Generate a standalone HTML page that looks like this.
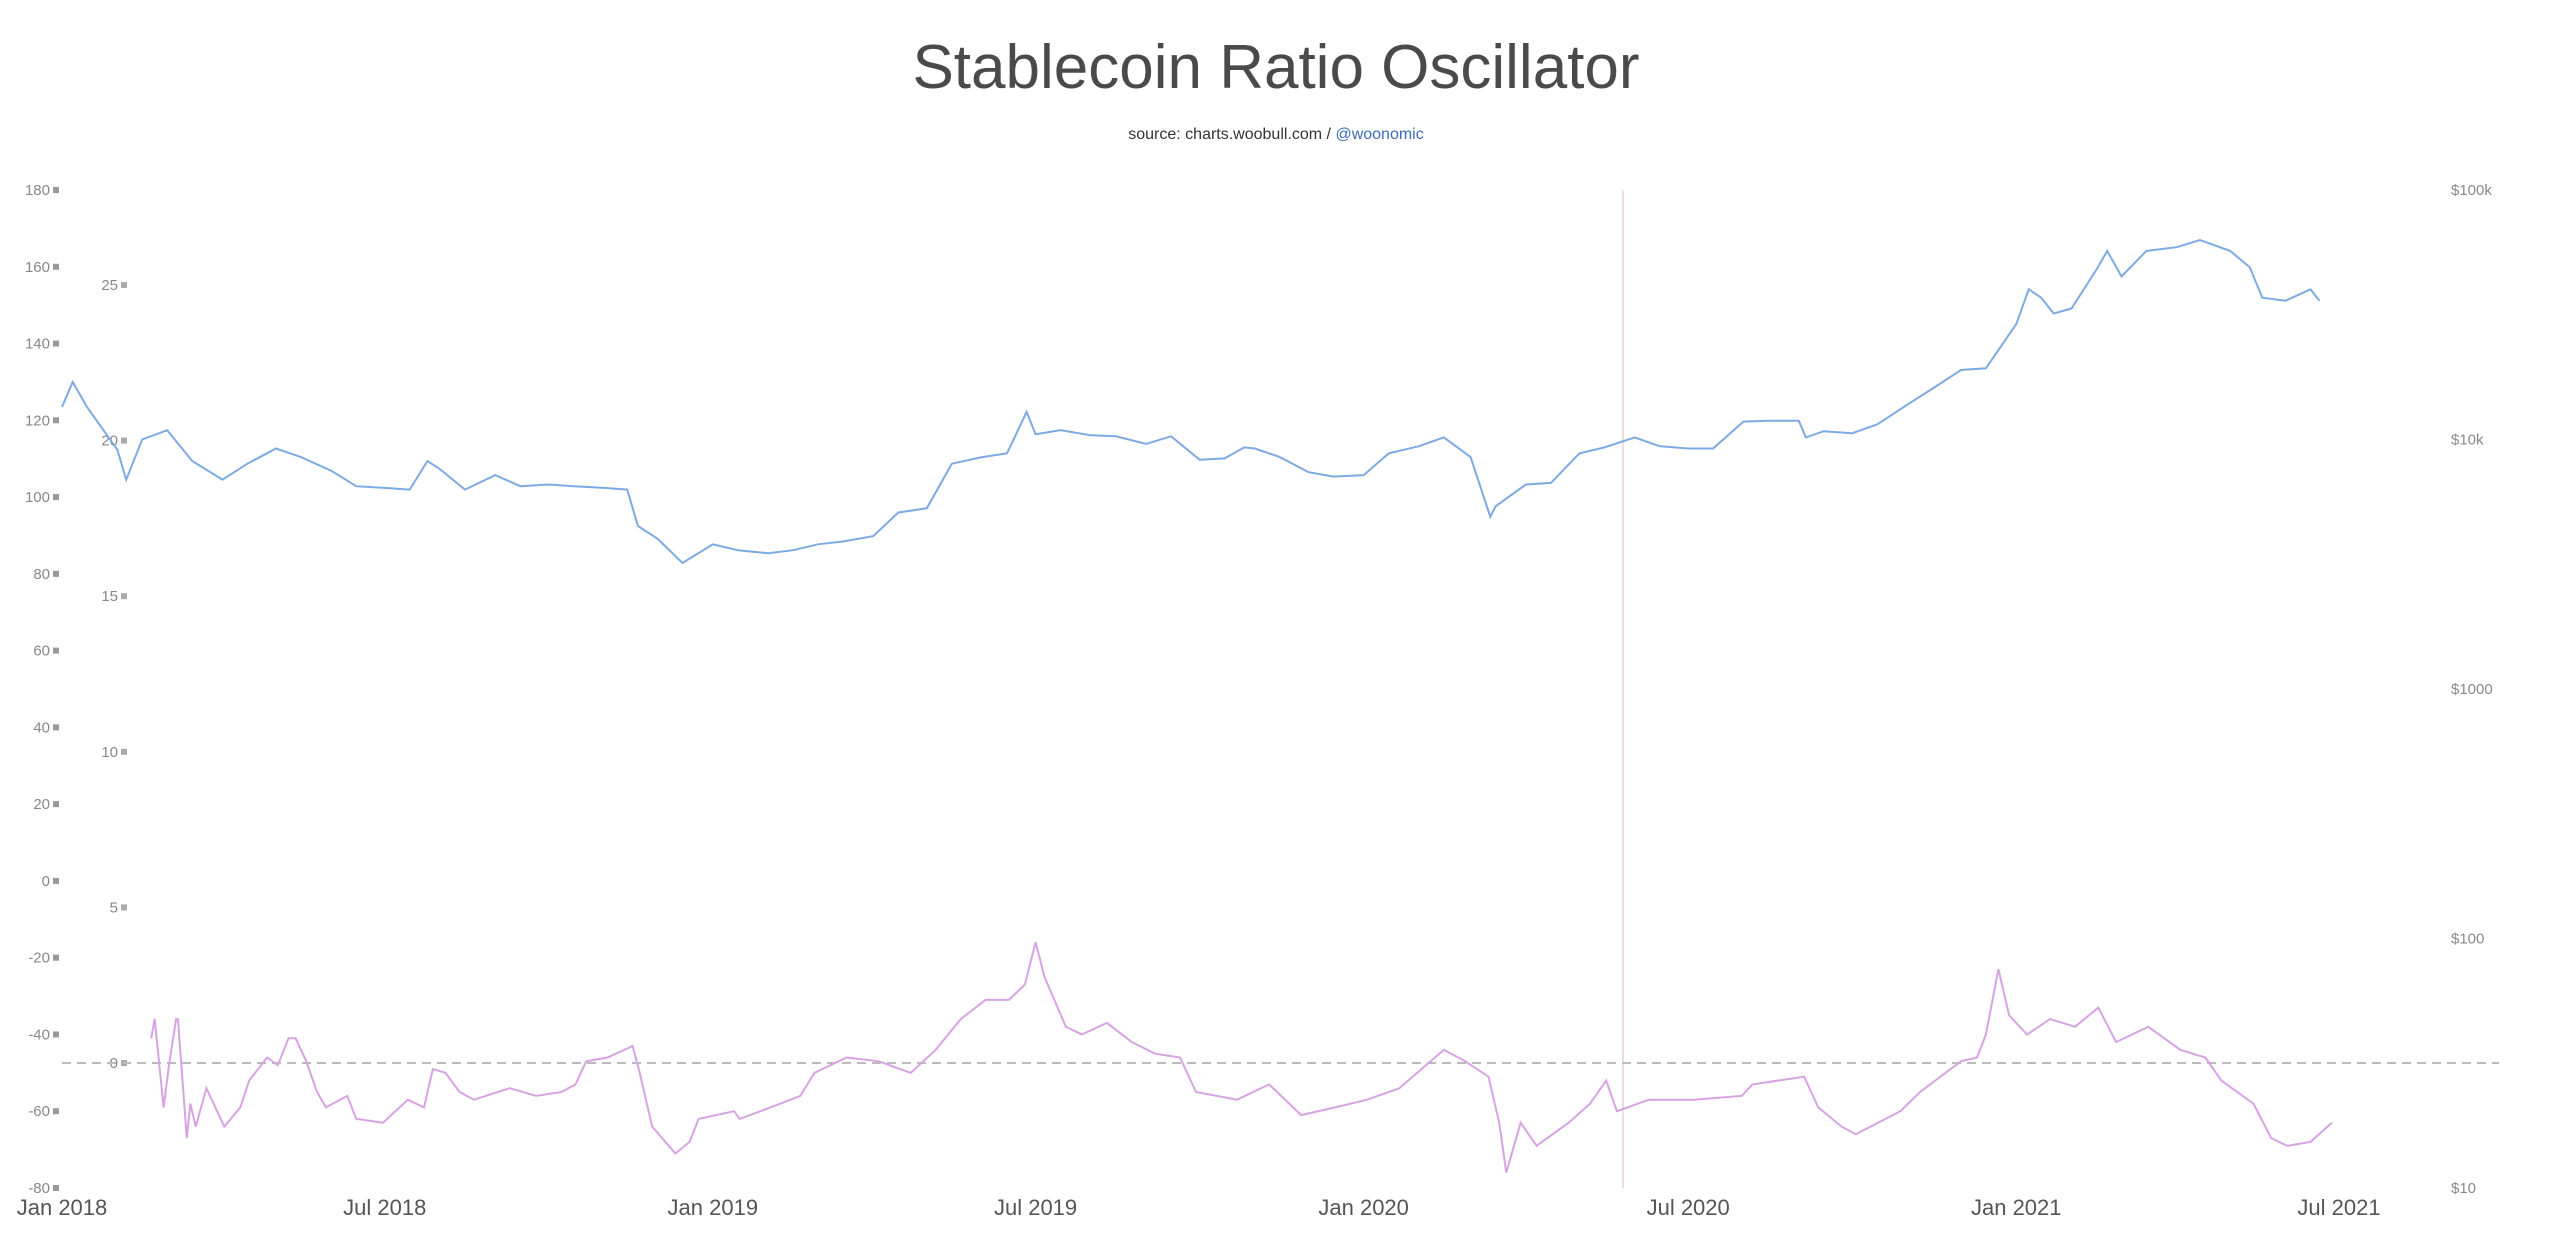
<!DOCTYPE html>
<html><head><meta charset="utf-8"><style>
html,body{margin:0;padding:0;background:#fff;}
svg{display:block;font-family:"Liberation Sans",sans-serif;}
</style></head><body>
<svg id="chart" width="2552" height="1240" viewBox="0 0 2552 1240">
<text x="1276" y="88" text-anchor="middle" font-size="62" fill="#4a4a4a" font-weight="300">Stablecoin Ratio Oscillator</text>
<text x="1276" y="139" text-anchor="middle" font-size="16" fill="#333">source: charts.woobull.com / <tspan fill="#3b6db5">@woonomic</tspan></text>
<g id="axes"></g>
<g id="series"></g>
</svg>
<script>
const leftTicks = [180,160,140,120,100,80,60,40,20,0,-20,-40,-60,-80];
const ratioTicks = [25,20,15,10,5,0];
const priceTicks = [100000,10000,1000,100,10];
const priceTickLabels = ["$100k","$10k","$1000","$100","$10"];
const xTickLabels = ["Jan 2018","Jul 2018","Jan 2019","Jul 2019","Jan 2020","Jul 2020","Jan 2021","Jul 2021"];
const xTickDates = ["2018-01-01","2018-07-01","2019-01-01","2019-07-01","2020-01-01","2020-07-01","2021-01-01","2021-07-01"];
const btcDates = ["2018-01-01","2018-01-07","2018-01-15","2018-02-01","2018-02-06","2018-02-15","2018-03-01","2018-03-15","2018-04-01","2018-04-15","2018-05-01","2018-05-15","2018-06-01","2018-06-15","2018-07-01","2018-07-15","2018-07-25","2018-08-01","2018-08-15","2018-09-01","2018-09-15","2018-10-01","2018-10-15","2018-11-01","2018-11-14","2018-11-20","2018-12-01","2018-12-15","2019-01-01","2019-01-15","2019-02-01","2019-02-15","2019-03-01","2019-03-15","2019-04-01","2019-04-15","2019-05-01","2019-05-15","2019-06-01","2019-06-15","2019-06-26","2019-07-01","2019-07-15","2019-08-01","2019-08-15","2019-09-01","2019-09-15","2019-10-01","2019-10-15","2019-10-26","2019-11-01","2019-11-15","2019-12-01","2019-12-15","2020-01-01","2020-01-15","2020-02-01","2020-02-15","2020-03-01","2020-03-12","2020-03-15","2020-04-01","2020-04-15","2020-05-01","2020-05-15","2020-06-01","2020-06-15","2020-07-01","2020-07-15","2020-08-01","2020-08-15","2020-09-01","2020-09-05","2020-09-15","2020-10-01","2020-10-15","2020-11-01","2020-11-15","2020-12-01","2020-12-15","2021-01-01","2021-01-08","2021-01-15","2021-01-22","2021-02-01","2021-02-15","2021-02-21","2021-03-01","2021-03-15","2021-04-01","2021-04-14","2021-05-01","2021-05-12","2021-05-19","2021-06-01","2021-06-15","2021-06-20"];
const btcPrices = [13500,17000,13500,9100,6900,10000,10900,8200,6900,8000,9200,8500,7500,6500,6400,6300,8200,7600,6300,7200,6500,6600,6500,6400,6300,4500,4000,3200,3800,3600,3500,3600,3800,3900,4100,5100,5300,8000,8500,8800,12900,10500,10900,10400,10300,9600,10300,8300,8400,9300,9200,8500,7400,7100,7200,8800,9400,10200,8500,4900,5400,6600,6700,8800,9300,10200,9400,9200,9200,11800,11900,11900,10200,10800,10600,11500,13800,16000,19000,19300,29000,40000,37000,32000,33500,48000,57000,45000,57000,59000,63000,57000,49000,37000,36000,40000,36000];
const oscDays = [50,52,57,60,64,65,70,72,75,81,91,100,105,115,121,127,131,137,143,148,160,165,180,194,203,208,215,223,231,251,266,280,288,294,306,320,324,331,344,352,357,377,380,403,414,422,440,458,476,490,504,518,531,540,546,551,563,572,586,600,613,627,636,659,677,695,714,732,750,775,787,800,806,810,818,827,845,857,866,872,890,915,942,948,977,985,998,1006,1031,1042,1065,1074,1079,1086,1092,1102,1115,1129,1142,1152,1170,1188,1202,1211,1229,1239,1248,1261,1273];
const oscValues = [-41,-36,-59,-48,-36,-36,-67,-58,-64,-54,-64,-59,-52,-46,-48,-41,-41,-47,-55,-59,-56,-62,-63,-57,-59,-49,-50,-55,-57,-54,-56,-55,-53,-47,-46,-43,-50,-64,-71,-68,-62,-60,-62,-58,-56,-50,-46,-47,-50,-44,-36,-31,-31,-27,-16,-25,-38,-40,-37,-42,-45,-46,-55,-57,-53,-61,-59,-57,-54,-44,-47,-51,-63,-76,-63,-69,-63,-58,-52,-60,-57,-57,-56,-53,-51,-59,-64,-66,-60,-55,-47,-46,-40,-23,-35,-40,-36,-38,-33,-42,-38,-44,-46,-52,-58,-67,-69,-68,-63];

const NS="http://www.w3.org/2000/svg";
const X0=62, X1=2339, T0=Date.UTC(2018,0,1), T1=Date.UTC(2021,6,1);
const xDate = s => { const t=Date.parse(s+"T00:00:00Z"); return X0+(t-T0)/(T1-T0)*(X1-X0); };
const xDay = d => X0+(d*86400000)/(T1-T0)*(X1-X0);
const yLeft = v => 190+(180-v)*(998/260);
const yRatio = v => 1063-v*(778/25);
const yPrice = p => 1188-(Math.log10(p)-1)*(998/4);
const axes=document.getElementById('axes'), series=document.getElementById('series');
function mk(tag,attrs,parent,text){const e=document.createElementNS(NS,tag);for(const k in attrs)e.setAttribute(k,attrs[k]);if(text!==undefined)e.textContent=text;parent.appendChild(e);return e;}

leftTicks.forEach(v=>{
  const t=mk('text',{x:50,y:yLeft(v)+5,'text-anchor':'end','font-size':15,fill:'#888'},axes,String(v));
  
  
  mk('rect',{x:53,y:yLeft(v)-3,width:6,height:6,fill:'#999'},axes);
});
ratioTicks.forEach(v=>{
  const t=mk('text',{x:118,y:yRatio(v)+5,'text-anchor':'end','font-size':15,fill:'#888'},axes,String(v));
  
  
  mk('rect',{x:121,y:yRatio(v)-3,width:6,height:6,fill:'#aaa'},axes);
});
priceTicks.forEach((p,i)=>{
  const t=mk('text',{x:2451,y:yPrice(p)+5,'font-size':15,fill:'#888'},axes,priceTickLabels[i]);
  
  
});
xTickDates.forEach((d,i)=>{
  const t=mk('text',{x:xDate(d),y:1215,'text-anchor':'middle','font-size':22,fill:'#555'},axes,xTickLabels[i]);
  
  
});
const vl=mk('line',{x1:1623,y1:190,x2:1623,y2:1188,stroke:'#f0dede','stroke-width':2},axes);


const zl=mk('line',{x1:X0,y1:yRatio(0),x2:2499,y2:yRatio(0),stroke:'#bbb','stroke-width':2,'stroke-dasharray':'9,6'},axes);



const bp=btcDates.map((d,i)=>xDate(d).toFixed(1)+','+yPrice(btcPrices[i]).toFixed(1)).join(' ');
const bl=mk('polyline',{points:bp,fill:'none',stroke:'#7eaae2','stroke-width':2},series);


const op=oscDays.map((d,i)=>xDay(d).toFixed(1)+','+yLeft(oscValues[i]).toFixed(1)).join(' ');
const ol=mk('polyline',{points:op,fill:'none',stroke:'#d7a3e3','stroke-width':2},series);


</script>
</body></html>
